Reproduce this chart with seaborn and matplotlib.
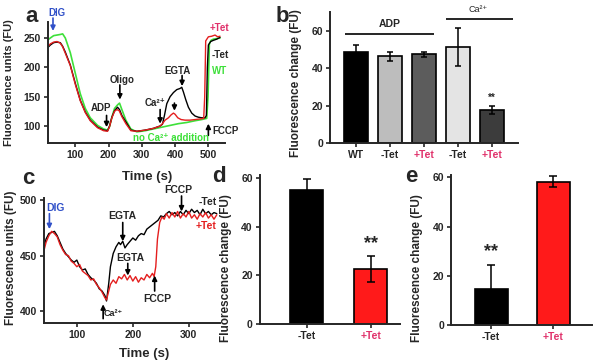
import numpy as np
import pandas as pd
import matplotlib
matplotlib.use("Agg")
import matplotlib.pyplot as plt
import seaborn as sns

# ---- panel a traces (time s, fluorescence units)
a_t_black = [18, 25, 35, 45, 55, 62, 70, 85, 100, 115, 130, 145, 167, 185, 197, 203, 210, 218, 227, 233,
             240, 252, 267, 285, 310, 335, 355, 362, 368, 375, 385, 395, 405, 415, 420, 425, 432, 440, 450,
             460, 470, 480, 490, 494, 497, 500, 507, 515, 525, 535]
a_v_black = [234, 238, 242, 243, 242, 236, 226, 204, 173, 144, 124, 110, 98, 93, 92, 100, 115, 126, 132, 128,
             118, 107, 93, 91, 93, 96, 100, 103, 118, 138, 150, 157, 162, 164, 166, 158, 145, 132, 122,
             117, 115, 114, 114, 118, 200, 238, 244, 246, 248, 251]
a_t_red = [18, 25, 35, 45, 55, 62, 70, 85, 100, 115, 130, 145, 167, 185, 197, 203, 210, 218, 225, 232,
           240, 252, 267, 285, 310, 335, 355, 362, 370, 380, 388, 395, 400, 408, 418, 430, 445, 460, 475,
           486, 489, 492, 500, 510, 520, 528, 535]
a_v_red = [236, 240, 243, 244, 241, 235, 224, 203, 171, 143, 123, 109, 97, 92, 91, 99, 114, 125, 128, 126,
           116, 104, 92, 91, 93, 96, 100, 104, 110, 114, 119, 122, 120, 114, 111, 110, 110, 111, 112,
           113, 150, 245, 252, 253, 255, 252, 253]
a_t_green = [18, 25, 35, 45, 55, 62, 70, 85, 100, 115, 130, 145, 167, 185, 197, 203, 210, 218, 227, 233,
             240, 252, 267, 285, 310, 335, 360, 385, 410, 435, 460, 480, 495, 499, 503, 508, 515, 525, 535]
a_v_green = [247, 250, 254, 255, 256, 257, 250, 225, 190, 155, 130, 114, 101, 95, 93, 99, 115, 130, 136, 139,
             128, 110, 95, 90, 92, 95, 98, 101, 104, 106, 109, 111, 113, 150, 240, 246, 248, 249, 250]

# ---- panel b bars
b_groups = ["WT", "-Tet ADP", "+Tet ADP", "-Tet Ca", "+Tet Ca"]
b_labels = ["WT", "-Tet", "+Tet", "-Tet", "+Tet"]
b_means = [48.5, 46.3, 47.3, 51.5, 17.6]
b_errs = [3.7, 2.4, 1.5, 10.2, 2.2]

# ---- panel c traces
c_t_black = [40, 45, 50, 55, 60, 65, 70, 75, 80, 85, 90, 95, 100, 105, 110, 115, 120, 125, 130, 135, 140,
             145, 150, 153, 157, 160, 165, 170, 175, 178, 182, 186, 190, 195, 200, 205, 210, 215, 220, 225,
             230, 235, 240, 245, 250, 255, 260, 265, 270, 275, 280, 285, 290, 295, 300, 305, 310, 315, 320,
             325, 330, 335, 340, 345, 350]
c_v_black = [455, 465, 470, 471, 472, 468, 462, 456, 452, 449, 446, 444, 446, 440, 437, 438, 433, 430, 428,
             425, 420, 418, 414, 409, 425, 440, 452, 458, 462, 460, 463, 457, 460, 463, 466, 464, 468, 470,
             469, 474, 476, 478, 480, 482, 486, 485, 488, 490, 487, 489, 486, 490, 487, 491, 488, 492, 489,
             491, 487, 492, 488, 490, 487, 489, 488]
c_t_red = [40, 45, 50, 55, 60, 65, 70, 75, 80, 85, 90, 95, 100, 105, 110, 115, 120, 125, 130, 135, 140, 145,
           150, 153, 157, 160, 165, 170, 175, 180, 185, 190, 195, 200, 205, 210, 215, 220, 225, 230, 235,
           238, 241, 244, 248, 252, 256, 260, 265, 270, 275, 280, 285, 290, 295, 300, 305, 310, 315, 320,
           325, 330, 335, 340, 345, 350]
c_v_red = [452, 462, 468, 472, 470, 467, 460, 455, 451, 450, 445, 443, 440, 442, 436, 434, 432, 428, 429,
           424, 421, 417, 412, 410, 418, 424, 428, 425, 431, 429, 433, 428, 432, 427, 431, 426, 430, 428,
           433, 430, 434, 431, 440, 465, 480, 485, 483, 488, 484, 489, 485, 490, 484, 488, 485, 490, 484,
           487, 483, 488, 485, 489, 484, 487, 483, 487]

# ---- panels d and e
de_labels = ["-Tet", "+Tet"]
d_means = [55.0, 22.5]
d_errs = [4.7, 5.3]
e_means = [14.5, 58.3]
e_errs = [9.8, 2.3]

sns.set_style("ticks")
plt.rcParams['font.family'] = ['Liberation Sans', 'DejaVu Sans']
plt.rcParams['font.weight'] = 'bold'
plt.rcParams['axes.labelweight'] = 'bold'
plt.rcParams['axes.linewidth'] = 1.4
plt.rcParams['xtick.major.width'] = 1.2
plt.rcParams['ytick.major.width'] = 1.2
plt.rcParams['xtick.major.size'] = 3
plt.rcParams['ytick.major.size'] = 3
plt.rcParams['xtick.major.pad'] = 2
plt.rcParams['ytick.major.pad'] = 2
plt.rcParams['xtick.labelsize'] = 7.5
plt.rcParams['ytick.labelsize'] = 7.5

RED = "#e41e1e"
PINK = "#e0306a"
GREEN = "#3ee03a"
BLUE = "#3050c8"

fig = plt.figure(figsize=(6, 3.63), dpi=100)
ax_a = fig.add_axes([0.08, 0.606, 0.295, 0.333])
ax_b = fig.add_axes([0.55, 0.606, 0.313, 0.361])
ax_c = fig.add_axes([0.073, 0.110, 0.293, 0.344])
ax_d = fig.add_axes([0.433, 0.107, 0.233, 0.41])
ax_e = fig.add_axes([0.752, 0.105, 0.235, 0.413])


def arrow(ax, x, y0, y1, color="black"):
    ax.annotate("", xy=(x, y1), xytext=(x, y0),
                arrowprops=dict(arrowstyle="-|>", color=color, lw=1.2, mutation_scale=7,
                                shrinkA=0, shrinkB=0), annotation_clip=False)


# panel a
sns.lineplot(x=a_t_green, y=a_v_green, ax=ax_a, color=GREEN, lw=1.2)
sns.lineplot(x=a_t_black, y=a_v_black, ax=ax_a, color="black", lw=1.0)
sns.lineplot(x=a_t_red, y=a_v_red, ax=ax_a, color=RED, lw=1.0)
ax_a.set_xlim(18, 550)
ax_a.set_ylim(71, 277)
ax_a.set_xticks([100, 200, 300, 400, 500])
ax_a.set_yticks([100, 150, 200, 250])
ax_a.set_xlabel("Time (s)", fontsize=9.5)
ax_a.set_ylabel("Fluorescence units (FU)", fontsize=8)
ax_a.xaxis.set_label_coords(0.56, -0.23)
ax_a.yaxis.set_label_coords(-0.19, 0.5)
ax_a.text(45, 292, "DIG", color=BLUE, fontsize=7, ha="center", va="center")
arrow(ax_a, 33, 284, 262, BLUE)
ax_a.text(176, 130, "ADP", fontsize=7, ha="center", va="center")
arrow(ax_a, 194, 118, 98)
ax_a.text(242, 178, "Oligo", fontsize=7, ha="center", va="center")
arrow(ax_a, 234, 170, 145)
ax_a.text(340, 139, "Ca²⁺", fontsize=7, ha="center", va="center")
arrow(ax_a, 355, 128, 104)
ax_a.text(406, 194, "EGTA", fontsize=7, ha="center", va="center")
arrow(ax_a, 421, 186, 168)
arrow(ax_a, 398, 139, 126)
ax_a.text(533, 267, "+Tet", color=PINK, fontsize=7, ha="center", va="center")
ax_a.text(536, 221, "-Tet", fontsize=7, ha="center", va="center")
ax_a.text(534, 194, "WT", color=GREEN, fontsize=7, ha="center", va="center")
ax_a.text(551, 92, "FCCP", fontsize=7, ha="center", va="center")
arrow(ax_a, 500, 84, 104)
ax_a.text(388, 80, "no Ca²⁺ addition", color=GREEN, fontsize=7, ha="center", va="center")

# panel b
df_b = pd.DataFrame({"group": b_groups, "value": b_means})
sns.barplot(data=df_b, x="group", y="value", hue="group", ax=ax_b, legend=False,
            palette=["black", "#bdbdbd", "#5c5c5c", "#e4e4e4", "#3c3c3c"], saturation=1,
            width=0.72, edgecolor="black", linewidth=1.2)
ax_b.errorbar(range(len(b_means)), b_means, yerr=b_errs, fmt="none", ecolor="black",
              elinewidth=1.1, capsize=2.5, capthick=1.1)
ax_b.set_xlim(-0.76, 4.76)
ax_b.set_ylim(0, 70)
ax_b.set_yticks([0, 20, 40, 60])
ax_b.set_xticks(range(len(b_labels)))
ax_b.set_xticklabels(b_labels)
for lab in ax_b.get_xticklabels():
    if lab.get_text() == "+Tet":
        lab.set_color(PINK)
ax_b.set_xlabel("")
ax_b.set_ylabel("Fluorescence change (FU)", fontsize=8.5)
ax_b.yaxis.set_label_coords(-0.15, 0.46)
ax_b.hlines(58.5, -0.32, 2.29, color="black", lw=1.2)
ax_b.text(1, 63.5, "ADP", fontsize=7.5, ha="center", va="center")
ax_b.hlines(66.4, 2.65, 4.62, color="black", lw=1.2, clip_on=False)
ax_b.text(3.6, 71.5, "Ca²⁺", fontsize=6.5, fontweight="normal", ha="center", va="center")
ax_b.text(4, 24, "**", fontsize=7, ha="center", va="center")

# panel c
sns.lineplot(x=c_t_black, y=c_v_black, ax=ax_c, color="black", lw=1.0)
sns.lineplot(x=c_t_red, y=c_v_red, ax=ax_c, color=RED, lw=1.0)
ax_c.set_xlim(41, 355)
ax_c.set_ylim(389, 502)
ax_c.set_xticks([100, 200, 300])
ax_c.set_yticks([400, 450, 500])
ax_c.set_xlabel("Time (s)", fontsize=9.5)
ax_c.set_ylabel("Fluorescence units (FU)", fontsize=8.5)
ax_c.xaxis.set_label_coords(0.57, -0.2)
ax_c.yaxis.set_label_coords(-0.155, 0.52)
ax_c.text(61, 493, "DIG", color=BLUE, fontsize=7.5, ha="center", va="center")
arrow(ax_c, 51, 488, 474, BLUE)
ax_c.text(182, 486, "EGTA", fontsize=7.5, ha="center", va="center")
arrow(ax_c, 182, 480, 463)
ax_c.text(196, 448, "EGTA", fontsize=7.5, ha="center", va="center")
arrow(ax_c, 191, 443, 432)
ax_c.text(165, 398, "Ca²⁺", fontsize=6.5, ha="center", va="center")
arrow(ax_c, 147, 393, 406)
ax_c.text(243, 411, "FCCP", fontsize=7.5, ha="center", va="center")
arrow(ax_c, 239, 418, 432)
ax_c.text(281, 509, "FCCP", fontsize=7.5, ha="center", va="center")
arrow(ax_c, 287, 504, 490)
ax_c.text(333, 499, "-Tet", fontsize=7.5, ha="center", va="center")
ax_c.text(331, 477, "+Tet", color=RED, fontsize=7.5, ha="center", va="center")

# panels d and e
for ax, means, errs, star_x, star_y, xl, w in [
        (ax_d, d_means, d_errs, 1, 33, (-0.73, 1.45), 0.51),
        (ax_e, e_means, e_errs, 0, 30, (-0.645, 1.63), 0.53)]:
    df = pd.DataFrame({"group": de_labels, "value": means})
    sns.barplot(data=df, x="group", y="value", hue="group", ax=ax, legend=False,
                palette=["black", "#ff1a1a"], saturation=1, width=w, edgecolor="black", linewidth=1.2)
    ax.errorbar(range(len(means)), means, yerr=errs, fmt="none", ecolor="black",
                elinewidth=1.1, capsize=3, capthick=1.1)
    ax.set_xlim(*xl)
    ax.set_ylim(0, 61)
    ax.set_yticks([0, 20, 40, 60])
    ax.set_xlabel("")
    ax.set_ylabel("Fluorescence change (FU)", fontsize=8.5)
    ax.yaxis.set_label_coords(-0.2, 0.38)
    ax.get_xticklabels()[1].set_color(PINK)
    ax.text(star_x, star_y, "**", fontsize=13, ha="center", va="center")

for ax in [ax_a, ax_b, ax_c, ax_d, ax_e]:
    sns.despine(ax=ax)

for letter, x, y in [("a", 32, 17), ("b", 282, 17), ("c", 28, 178), ("d", 219, 177), ("e", 411, 177)]:
    fig.text(x / 600, 1 - y / 363, letter, fontsize=16, fontweight="bold", ha="center", va="center",
             family=["Liberation Sans", "DejaVu Sans"])

fig.savefig("out.png", dpi=100)
